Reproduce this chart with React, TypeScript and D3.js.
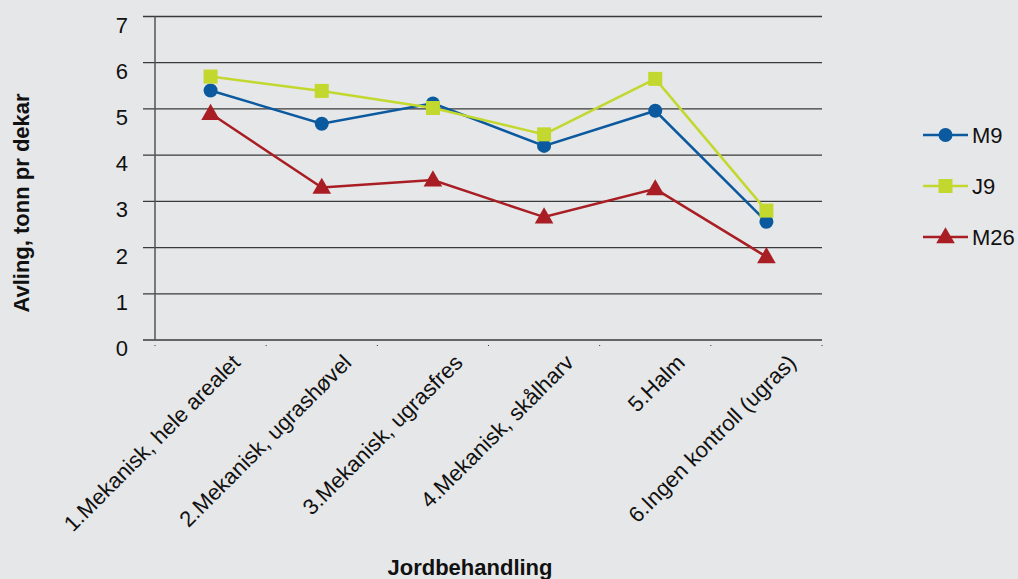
import React from "react";
import * as d3 from "d3";

const categories = [
  "1.Mekanisk, hele arealet",
  "2.Mekanisk, ugrashøvel",
  "3.Mekanisk, ugrasfres",
  "4.Mekanisk, skålharv",
  "5.Halm",
  "6.Ingen kontroll (ugras)",
];
const m9 = [5.4, 4.68, 5.12, 4.2, 4.96, 2.56];
const j9 = [5.7, 5.39, 5.02, 4.45, 5.65, 2.8];
const m26 = [4.9, 3.3, 3.46, 2.66, 3.27, 1.8];
const yTicks = [0, 1, 2, 3, 4, 5, 6, 7];

const series = [
  { name: "M9", values: m9, color: "#0b5aa0", shape: "circle" },
  { name: "J9", values: j9, color: "#c3d82e", shape: "square" },
  { name: "M26", values: m26, color: "#a81e24", shape: "triangle" },
];

const W = 1018, H = 579;
const left = 155, right = 822, top = 16.5, bottom = 340;

function Marker({ shape, x, y, color }: any) {
  if (shape === "circle") return <circle cx={x} cy={y} r={7} fill={color} />;
  if (shape === "square") return <rect x={x - 7} y={y - 7} width={14} height={14} fill={color} />;
  const p = d3.symbol().type(d3.symbolTriangle).size(150)();
  return <path d={p || ""} transform={`translate(${x},${y + 1})`} fill={color} />;
}

export default function App() {
  const x = d3.scaleBand().domain(categories).range([left, right]);
  const y = d3.scaleLinear().domain([0, 7]).range([bottom, top]);
  const line = d3.line<number>()
    .x((_, i) => (x(categories[i]) as number) + x.bandwidth() / 2)
    .y((d) => y(d));
  const font = "'Liberation Sans', Arial, sans-serif";
  return (
    <svg width={W} height={H} style={{ position: "absolute", left: 0, top: 0, display: "block" }}>
      <rect width={W} height={H} fill="#e6e7e8" />
      {yTicks.map((t) => (
        <g key={t}>
          <line x1={143} x2={right} y1={y(t)} y2={y(t)} stroke="#3a3a3a" strokeWidth={1.3} />
          <text x={128} y={y(t) + 16} textAnchor="end" fontFamily={font} fontSize={22} fill="#111">{t}</text>
        </g>
      ))}
      <line x1={left} x2={left} y1={top} y2={bottom} stroke="#555" strokeWidth={1.5} />
      {categories.map((c, i) => (
        <rect key={"tk" + i} x={(x(c) as number) - 0.5} y={345} width={1} height={1} fill="#333" />
      ))}
      <rect x={right - 0.5} y={345} width={1} height={1} fill="#333" />
      {series.map((s) => (
        <g key={s.name}>
          <path d={line(s.values) || ""} fill="none" stroke={s.color} strokeWidth={2.5} />
          {s.values.map((v, i) => (
            <Marker key={i} shape={s.shape} x={(x(categories[i]) as number) + x.bandwidth() / 2} y={y(v)} color={s.color} />
          ))}
        </g>
      ))}
      {categories.map((c, i) => {
        const cx = (x(c) as number) + x.bandwidth() / 2 + 31;
        const cy = 364;
        return (
          <text key={c} x={cx} y={cy} transform={`rotate(-45,${cx},${cy})`} textAnchor="end"
            fontFamily={font} fontSize={22} fill="#111">{c}</text>
        );
      })}
      {series.map((s, i) => {
        const ly = 135 + i * 51;
        return (
          <g key={"lg" + s.name}>
            <line x1={923} x2={968} y1={ly} y2={ly} stroke={s.color} strokeWidth={2.5} />
            <Marker shape={s.shape} x={945.5} y={ly} color={s.color} />
            <text x={972} y={ly + 8} fontFamily={font} fontSize={22} fill="#111">{s.name}</text>
          </g>
        );
      })}
      <text transform="translate(29,203) rotate(-90)" textAnchor="middle" fontFamily={font}
        fontSize={22} fontWeight="bold" fill="#111">Avling, tonn pr dekar</text>
      <text x={470} y={575} textAnchor="middle" fontFamily={font} fontSize={22} fontWeight="bold" fill="#111">Jordbehandling</text>
    </svg>
  );
}
